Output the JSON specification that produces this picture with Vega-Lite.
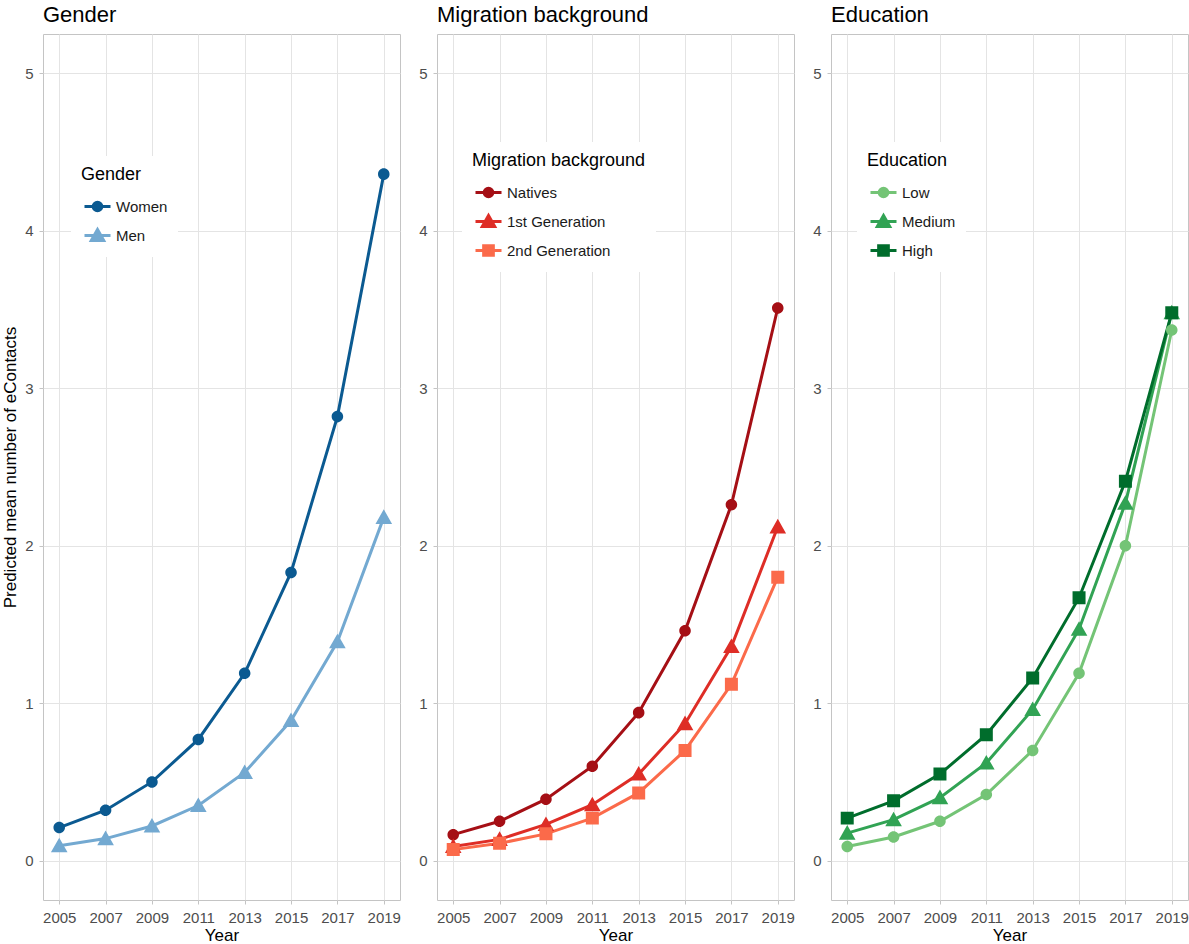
{
  "$schema": "https://vega.github.io/schema/vega-lite/v6.json",
  "background": "white",
  "padding": {"left": 1, "top": 3, "right": 0, "bottom": 2},
  "spacing": 16,
  "config": {
    "font": "Liberation Sans",
    "view": {"stroke": "#c4c4c4", "strokeWidth": 1},
    "axis": {
      "domain": false,
      "gridColor": "#e4e4e4",
      "gridWidth": 1,
      "tickColor": "#c4c4c4",
      "tickSize": 4,
      "labelColor": "#4d4d4d",
      "labelFontSize": 15,
      "titleFontSize": 17,
      "titleFontWeight": "normal",
      "titleColor": "#000000"
    },
    "axisY": {"titlePadding": 5, "labelPadding": 6},
    "axisX": {"titlePadding": 2, "labelPadding": 6},
    "title": {"fontSize": 22, "fontWeight": "normal", "anchor": "start", "frame": "group", "color": "#000000", "offset": 7},
    "legend": {
      "fillColor": "white",
      "padding": 10,
      "titleFontSize": 18,
      "titleFontWeight": "normal",
      "titleColor": "#000000",
      "titlePadding": 11,
      "labelFontSize": 15,
      "labelColor": "#1a1a1a",
      "symbolSize": 400,
      "symbolStrokeWidth": 3,
      "symbolOffset": 5,
      "rowPadding": 6,
      "labelOffset": 7,
      "orient": "none"
    }
  },
  "data": {"values": [
    {"panel": "Gender", "group": "Women", "year": 2005, "value": 0.21},
    {"panel": "Gender", "group": "Women", "year": 2007, "value": 0.32},
    {"panel": "Gender", "group": "Women", "year": 2009, "value": 0.50},
    {"panel": "Gender", "group": "Women", "year": 2011, "value": 0.77},
    {"panel": "Gender", "group": "Women", "year": 2013, "value": 1.19},
    {"panel": "Gender", "group": "Women", "year": 2015, "value": 1.83},
    {"panel": "Gender", "group": "Women", "year": 2017, "value": 2.82},
    {"panel": "Gender", "group": "Women", "year": 2019, "value": 4.36},
    {"panel": "Gender", "group": "Men", "year": 2005, "value": 0.095},
    {"panel": "Gender", "group": "Men", "year": 2007, "value": 0.14},
    {"panel": "Gender", "group": "Men", "year": 2009, "value": 0.22},
    {"panel": "Gender", "group": "Men", "year": 2011, "value": 0.35},
    {"panel": "Gender", "group": "Men", "year": 2013, "value": 0.56},
    {"panel": "Gender", "group": "Men", "year": 2015, "value": 0.89},
    {"panel": "Gender", "group": "Men", "year": 2017, "value": 1.39},
    {"panel": "Gender", "group": "Men", "year": 2019, "value": 2.18},
    {"panel": "Migration", "group": "Natives", "year": 2005, "value": 0.165},
    {"panel": "Migration", "group": "Natives", "year": 2007, "value": 0.25},
    {"panel": "Migration", "group": "Natives", "year": 2009, "value": 0.39},
    {"panel": "Migration", "group": "Natives", "year": 2011, "value": 0.60},
    {"panel": "Migration", "group": "Natives", "year": 2013, "value": 0.94},
    {"panel": "Migration", "group": "Natives", "year": 2015, "value": 1.46},
    {"panel": "Migration", "group": "Natives", "year": 2017, "value": 2.26},
    {"panel": "Migration", "group": "Natives", "year": 2019, "value": 3.51},
    {"panel": "Migration", "group": "1st Generation", "year": 2005, "value": 0.09},
    {"panel": "Migration", "group": "1st Generation", "year": 2007, "value": 0.135},
    {"panel": "Migration", "group": "1st Generation", "year": 2009, "value": 0.23},
    {"panel": "Migration", "group": "1st Generation", "year": 2011, "value": 0.355},
    {"panel": "Migration", "group": "1st Generation", "year": 2013, "value": 0.55},
    {"panel": "Migration", "group": "1st Generation", "year": 2015, "value": 0.87},
    {"panel": "Migration", "group": "1st Generation", "year": 2017, "value": 1.36},
    {"panel": "Migration", "group": "1st Generation", "year": 2019, "value": 2.12},
    {"panel": "Migration", "group": "2nd Generation", "year": 2005, "value": 0.07},
    {"panel": "Migration", "group": "2nd Generation", "year": 2007, "value": 0.11},
    {"panel": "Migration", "group": "2nd Generation", "year": 2009, "value": 0.17},
    {"panel": "Migration", "group": "2nd Generation", "year": 2011, "value": 0.27},
    {"panel": "Migration", "group": "2nd Generation", "year": 2013, "value": 0.43},
    {"panel": "Migration", "group": "2nd Generation", "year": 2015, "value": 0.70},
    {"panel": "Migration", "group": "2nd Generation", "year": 2017, "value": 1.12},
    {"panel": "Migration", "group": "2nd Generation", "year": 2019, "value": 1.80},
    {"panel": "Education", "group": "Low", "year": 2005, "value": 0.09},
    {"panel": "Education", "group": "Low", "year": 2007, "value": 0.15},
    {"panel": "Education", "group": "Low", "year": 2009, "value": 0.25},
    {"panel": "Education", "group": "Low", "year": 2011, "value": 0.42},
    {"panel": "Education", "group": "Low", "year": 2013, "value": 0.70},
    {"panel": "Education", "group": "Low", "year": 2015, "value": 1.19},
    {"panel": "Education", "group": "Low", "year": 2017, "value": 2.00},
    {"panel": "Education", "group": "Low", "year": 2019, "value": 3.37},
    {"panel": "Education", "group": "Medium", "year": 2005, "value": 0.175},
    {"panel": "Education", "group": "Medium", "year": 2007, "value": 0.26},
    {"panel": "Education", "group": "Medium", "year": 2009, "value": 0.40},
    {"panel": "Education", "group": "Medium", "year": 2011, "value": 0.62},
    {"panel": "Education", "group": "Medium", "year": 2013, "value": 0.96},
    {"panel": "Education", "group": "Medium", "year": 2015, "value": 1.47},
    {"panel": "Education", "group": "Medium", "year": 2017, "value": 2.27},
    {"panel": "Education", "group": "Medium", "year": 2019, "value": 3.48},
    {"panel": "Education", "group": "High", "year": 2005, "value": 0.27},
    {"panel": "Education", "group": "High", "year": 2007, "value": 0.38},
    {"panel": "Education", "group": "High", "year": 2009, "value": 0.55},
    {"panel": "Education", "group": "High", "year": 2011, "value": 0.80},
    {"panel": "Education", "group": "High", "year": 2013, "value": 1.16},
    {"panel": "Education", "group": "High", "year": 2015, "value": 1.67},
    {"panel": "Education", "group": "High", "year": 2017, "value": 2.41},
    {"panel": "Education", "group": "High", "year": 2019, "value": 3.48}
  ]},
  "resolve": {"scale": {"color": "independent", "shape": "independent", "stroke": "independent"}},
  "hconcat": [
    {
      "title": "Gender",
      "width": 357, "height": 866,
      "transform": [{"filter": "datum.panel === 'Gender'"}],
      "encoding": {
        "x": {"field": "year", "type": "quantitative", "title": "Year",
              "scale": {"domain": [2004.3, 2019.7], "nice": false, "zero": false},
              "axis": {"values": [2005, 2007, 2009, 2011, 2013, 2015, 2017, 2019], "format": "d"}},
        "y": {"field": "value", "type": "quantitative", "title": "Predicted mean number of eContacts",
              "scale": {"domain": [-0.25, 5.25], "nice": false, "zero": false},
              "axis": {"values": [0, 1, 2, 3, 4, 5]}},
        "color": {"field": "group", "type": "nominal", "sort": ["Women", "Men"],
                  "scale": {"domain": ["Women", "Men"], "range": ["#0b5a91", "#73a9d1"]},
                  "legend": {"title": "Gender", "legendX": 28, "legendY": 122, "symbolStrokeWidth": 3}}
      },
      "layer": [
        {"mark": {"type": "line", "strokeWidth": 3}},
        {"mark": {"type": "point", "filled": true, "size": 718, "opacity": 1, "strokeWidth": 0},
         "encoding": {
           "shape": {"field": "group", "type": "nominal", "title": "Gender",
                     "scale": {"domain": ["Women", "Men"], "range": ["M-1.3,0H1.3M0.43,0A0.43,0.43 0 1,1 -0.43,0A0.43,0.43 0 1,1 0.43,0Z", "M-1.3,0H1.3M0,-0.6L0.62,0.49L-0.62,0.49Z"]}},
           "stroke": {"field": "group", "type": "nominal", "title": "Gender",
                      "scale": {"domain": ["Women", "Men"], "range": ["#0b5a91", "#73a9d1"]}}
         }}
      ]
    },
    {
      "title": "Migration background",
      "width": 357, "height": 866,
      "transform": [{"filter": "datum.panel === 'Migration'"}],
      "encoding": {
        "x": {"field": "year", "type": "quantitative", "title": "Year",
              "scale": {"domain": [2004.3, 2019.7], "nice": false, "zero": false},
              "axis": {"values": [2005, 2007, 2009, 2011, 2013, 2015, 2017, 2019], "format": "d"}},
        "y": {"field": "value", "type": "quantitative", "title": null,
              "scale": {"domain": [-0.25, 5.25], "nice": false, "zero": false},
              "axis": {"values": [0, 1, 2, 3, 4, 5]}},
        "color": {"field": "group", "type": "nominal", "sort": ["Natives", "1st Generation", "2nd Generation"],
                  "scale": {"domain": ["Natives", "1st Generation", "2nd Generation"], "range": ["#a50f15", "#de2d26", "#fb6a4a"]},
                  "legend": {"title": "Migration background", "legendX": 25, "legendY": 108, "symbolStrokeWidth": 3}}
      },
      "layer": [
        {"mark": {"type": "line", "strokeWidth": 3}},
        {"mark": {"type": "point", "filled": true, "size": 718, "opacity": 1, "strokeWidth": 0},
         "encoding": {
           "shape": {"field": "group", "type": "nominal", "title": "Migration background",
                     "scale": {"domain": ["Natives", "1st Generation", "2nd Generation"], "range": ["M-1.3,0H1.3M0.43,0A0.43,0.43 0 1,1 -0.43,0A0.43,0.43 0 1,1 0.43,0Z", "M-1.3,0H1.3M0,-0.6L0.62,0.49L-0.62,0.49Z", "M-1.3,0H1.3M-0.485,-0.485H0.485V0.485H-0.485Z"]}},
           "stroke": {"field": "group", "type": "nominal", "title": "Migration background",
                      "scale": {"domain": ["Natives", "1st Generation", "2nd Generation"], "range": ["#a50f15", "#de2d26", "#fb6a4a"]}}
         }}
      ]
    },
    {
      "title": "Education",
      "width": 357, "height": 866,
      "transform": [{"filter": "datum.panel === 'Education'"}],
      "encoding": {
        "x": {"field": "year", "type": "quantitative", "title": "Year",
              "scale": {"domain": [2004.3, 2019.7], "nice": false, "zero": false},
              "axis": {"values": [2005, 2007, 2009, 2011, 2013, 2015, 2017, 2019], "format": "d"}},
        "y": {"field": "value", "type": "quantitative", "title": null,
              "scale": {"domain": [-0.25, 5.25], "nice": false, "zero": false},
              "axis": {"values": [0, 1, 2, 3, 4, 5]}},
        "color": {"field": "group", "type": "nominal", "sort": ["Low", "Medium", "High"],
                  "scale": {"domain": ["Low", "Medium", "High"], "range": ["#74c476", "#31a354", "#006d2c"]},
                  "legend": {"title": "Education", "legendX": 26, "legendY": 108, "symbolStrokeWidth": 3}}
      },
      "layer": [
        {"mark": {"type": "line", "strokeWidth": 3}},
        {"mark": {"type": "point", "filled": true, "size": 718, "opacity": 1, "strokeWidth": 0},
         "encoding": {
           "shape": {"field": "group", "type": "nominal", "title": "Education",
                     "scale": {"domain": ["Low", "Medium", "High"], "range": ["M-1.3,0H1.3M0.43,0A0.43,0.43 0 1,1 -0.43,0A0.43,0.43 0 1,1 0.43,0Z", "M-1.3,0H1.3M0,-0.6L0.62,0.49L-0.62,0.49Z", "M-1.3,0H1.3M-0.485,-0.485H0.485V0.485H-0.485Z"]}},
           "stroke": {"field": "group", "type": "nominal", "title": "Education",
                      "scale": {"domain": ["Low", "Medium", "High"], "range": ["#74c476", "#31a354", "#006d2c"]}}
         }}
      ]
    }
  ]
}
